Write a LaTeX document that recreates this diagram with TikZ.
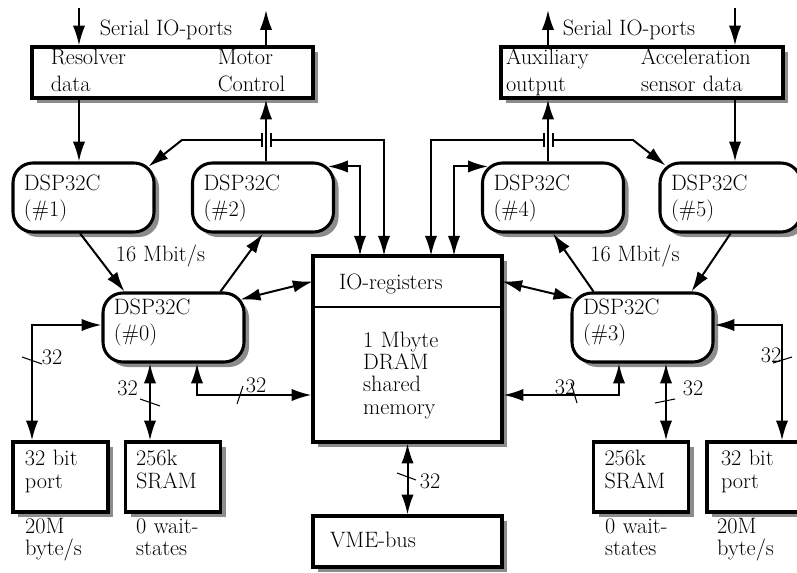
\documentclass[tikz,border=0pt]{standalone}
\usetikzlibrary{positioning,arrows.meta,shadows}
\tikzset{
  every node/.style={font=\fontsize{19}{23}\selectfont},
  box/.style={draw, line width=2.6pt, fill=white, inner sep=0pt, align=left, text height=14pt,
    drop shadow={shadow xshift=0.15cm, shadow yshift=-0.15cm, fill=black!45, opacity=1}},
  dspbox/.style={box, rounded corners=0.6cm, minimum width=4.23cm, minimum height=2.07cm, text width=3.57cm, text depth=#1},
  dspbox/.default=26.8pt,
  membox/.style={box, font=\fontsize{19}{19}\selectfont, minimum width=2.85cm, minimum height=2.1cm, text depth=32.8pt},
  note/.style={inner sep=0pt, anchor=north west, align=left, text width=2.6cm, text height=14pt, font=\fontsize{19}{19}\selectfont},
  arr/.style={line width=1.7pt, -{Latex[length=17pt,width=10.5pt]}},
  dbl/.style={line width=1.7pt, {Latex[length=17pt,width=10.5pt]}-{Latex[length=17pt,width=10.5pt]}},
  slash/.style={line width=0.9pt},
  tick/.style={line width=1.6pt},
  num/.style={inner sep=0pt}
}
\begin{document}
\begin{tikzpicture}[x=0.03cm,y=-0.03cm]
    \useasboundingbox (0,0) rectangle (797,573);
    %serial io boxes
    \node[box, minimum width=8.43cm, minimum height=1.53cm, text width=7.3cm, text depth=26.8pt] (serL) at (172.5,72.5) {\makebox[5.01cm][l]{Resolver}Motor\\\makebox[5.01cm][l]{data}Control};
    \node[box, minimum width=8.46cm, minimum height=1.53cm, text width=8.16cm, text depth=26.8pt] (serR) at (642,72.5) {\makebox[4.05cm][l]{Auxiliary}Acceleration\\\makebox[4.05cm][l]{output}sensor data};
    \node (serLtxt) at (166,30) {Serial IO-ports};
    \node (serRtxt) at (629,30) {Serial IO-ports};

    %dsp
    \node[dspbox] (dsp1) at (83.5,197.5) {DSP32C\\(\#1)};
    \node[dspbox] (dsp2) at (263,197.5) {DSP32C\\(\#2)};
    \node[dspbox] (dsp4) at (553,197.5) {DSP32C\\(\#4)};
    \node[dspbox] (dsp5) at (730.5,197.5) {DSP32C\\(\#5)};
    \node[dspbox=37pt] (dsp0) at (173.5,327.5) {DSP32C\\(\#0)};
    \node[dspbox=37pt] (dsp3) at (642.5,327.5) {DSP32C\\(\#3)};
    \node (mbitL) at (160.5,256) {16 Mbit/s};
    \node (mbitR) at (635,256) {16 Mbit/s};

    %shared memory
    \node[box, minimum width=5.67cm, minimum height=5.58cm] (mem) at (407.5,349) {};
    \node[inner sep=0pt, minimum width=5.67cm, minimum height=1.53cm, text width=4.11cm, align=left, text height=14pt, text depth=0pt] (ioreg) at (407.5,281.5) {IO-registers};
    \draw[tick] (ioreg.south west) -- (ioreg.south east);
    \node[note, text width=3.5cm] (dram) at (363,330.6) {1 Mbyte\\DRAM\\shared\\memory};
    \node[box, minimum width=5.67cm, minimum height=1.53cm, text width=4.65cm, text depth=4.6pt] (vme) at (407.5,541.5) {VME-bus};

    %local memories and ports
    \node[membox, text width=2.13cm] (portL) at (60.5,477) {32 bit\\port};
    \node[membox, text width=2.22cm] (sramL) at (173,477) {256k\\SRAM};
    \node[membox, text width=2.19cm] (sramR) at (641,477) {256k\\SRAM};
    \node[membox, text width=2.01cm] (portR) at (754.5,477) {32 bit\\port};
    \node[note] (rateL) at (25,516.6) {20M\\byte/s};
    \node[note] (waitL) at (136,516.6) {0 wait-\\states};
    \node[note] (waitR) at (605,516.6) {0 wait-\\states};
    \node[note] (rateR) at (717,516.6) {20M\\byte/s};

    %serial lines
    \coordinate (inL) at (79,8);
    \coordinate (outL) at (266,10);
    \coordinate (outR) at (548,10);
    \coordinate (inR) at (735,8);
    \draw[arr] (inL) -- (inL |- serL.north);
    \draw[arr] (outL |- serL.north) -- (outL);
    \draw[arr] (inL |- serL.south) -- (inL |- dsp1.north);
    \draw[arr] (outL |- dsp2.north) -- (outL |- serL.south);
    \draw[arr] (inR) -- (inR |- serR.north);
    \draw[arr] (outR |- serR.north) -- (outR);
    \draw[arr] (inR |- serR.south) -- (inR |- dsp5.north);
    \draw[arr] (outR |- dsp4.north) -- (outR |- serR.south);

    %io-register lines
    \coordinate (jA1) at (262,140);
    \coordinate (jA2) at (271,140);
    \coordinate (jB1) at (544,140);
    \coordinate (jB2) at (553,140);
    \coordinate (kA) at (182,140);
    \coordinate (kB) at (633,140);
    \coordinate (bA) at (384,140);
    \coordinate (bB) at (360,168);
    \coordinate (bC) at (431,140);
    \coordinate (bD) at (454,168);
    \draw[arr] (jA1) -- (kA) -- ([shift={(-7,5)}]dsp1.north east);
    \draw[arr] (jA2) -| (bA |- ioreg.north);
    \draw[arr] (jB1) -| (bC |- ioreg.north);
    \draw[arr] (jB2) -- (kB) -- ([shift={(7,4)}]dsp5.north west);
    \draw[tick] (jA1) ++(0,-7) -- ++(0,14);
    \draw[tick] (jA2) ++(0,-7) -- ++(0,14);
    \draw[tick] (jB1) ++(0,-7) -- ++(0,14);
    \draw[tick] (jB2) ++(0,-7) -- ++(0,14);
    \draw[dbl] ([shift={(-7,5)}]dsp2.north east) -| (bB |- ioreg.north);
    \draw[dbl] ([shift={(7,5)}]dsp4.north west) -| (bD |- ioreg.north);

    %16 Mbit/s links
    \draw[arr] ([xshift=-0.1cm]dsp1.south) -- ([shift={(23,0)}]dsp0.north west);
    \draw[arr] ([shift={(-25,0)}]dsp0.north east) -- (dsp2.south);
    \draw[arr] ([shift={(23,0)}]dsp3.north west) -- (dsp4.south);
    \draw[arr] (dsp5.south) -- ([shift={(-23,0)}]dsp3.north east);
    \draw[dbl] ([shift={(-5,8)}]dsp0.north east) -- (ioreg.west);
    \draw[dbl] (ioreg.east) -- ([shift={(3,7)}]dsp3.north west);

    %32 bit buses
    \coordinate (bE) at (197,395);
    \coordinate (bF) at (619,395);
    \coordinate (bG) at (150,400);
    \coordinate (bH) at (666,400);
    \coordinate (bI) at (32,325);
    \coordinate (bJ) at (782,325);
    \draw[dbl] (dsp0.south -| bE) |- (bE -| mem.west);
    \draw[dbl] (bF -| mem.east) -| (dsp3.south -| bF);
    \draw[dbl] (dsp0.south -| bG) -- (sramL.north -| bG);
    \draw[dbl] (dsp3.south -| bH) -- (sramR.north -| bH);
    \draw[dbl] (bI -| dsp0.west) -| (portL.north -| bI);
    \draw[dbl] (bJ -| dsp3.east) -| (portR.north -| bJ);
    \draw[dbl] (mem.south) -- (vme.north);
    \draw[slash] (243,386) -- (237,404);
    \draw[slash] (571,383) -- (577,403);
    \draw[slash] (140,399) -- (160,406);
    \draw[slash] (655,403) -- (675,399);
    \draw[slash] (22,357) -- (42,364);
    \draw[slash] (773,363) -- (792,357);
    \draw[slash] (397,473) -- (416,480);
    \node[num] (wE) at (256,385) {32};
    \node[num] (wF) at (565,387) {32};
    \node[num] (wG) at (127.5,388.5) {32};
    \node[num] (wH) at (693,388) {32};
    \node[num] (wI) at (52,357) {32};
    \node[num] (wJ) at (771,355) {32};
    \node[num] (wK) at (430,481) {32};
\end{tikzpicture}
\end{document}
